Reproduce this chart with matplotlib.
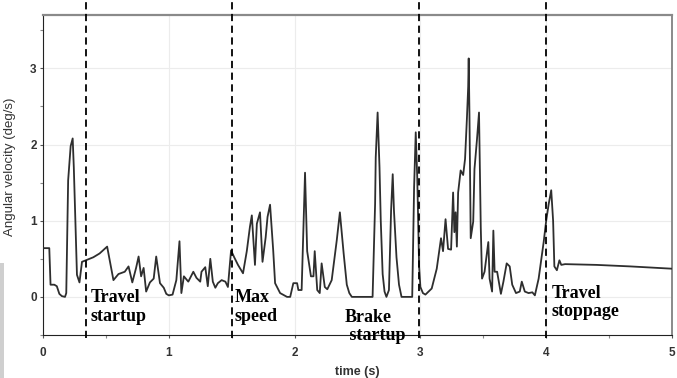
import matplotlib
matplotlib.use("Agg")
import matplotlib.pyplot as plt
from matplotlib.patches import Rectangle

# -------------------- DATA --------------------
t = [0.00, 0.05, 0.06, 0.09, 0.11, 0.13, 0.15, 0.175, 0.185, 0.20, 0.22, 0.236, 0.245,
     0.27, 0.29, 0.31, 0.34, 0.40, 0.45, 0.51, 0.56, 0.60, 0.65, 0.68, 0.71, 0.74, 0.76,
     0.78, 0.80, 0.82, 0.85, 0.88, 0.90, 0.93, 0.96, 0.98, 1.00, 1.03, 1.06, 1.085, 1.10,
     1.12, 1.155, 1.195, 1.22, 1.25, 1.26, 1.29, 1.31, 1.33, 1.35, 1.37, 1.39, 1.42, 1.45,
     1.47, 1.495, 1.52, 1.55, 1.59, 1.62, 1.645, 1.66, 1.685, 1.70, 1.725, 1.745, 1.77,
     1.785, 1.805, 1.83, 1.845, 1.885, 1.94, 1.965, 1.99, 2.02, 2.03, 2.056, 2.083, 2.10,
     2.13, 2.15, 2.16, 2.18, 2.20, 2.215, 2.24, 2.26, 2.295, 2.335, 2.36, 2.39, 2.415,
     2.435, 2.455, 2.62, 2.64, 2.645, 2.66, 2.675, 2.685, 2.70, 2.715, 2.73, 2.75, 2.767,
     2.78, 2.79, 2.81, 2.83, 2.85, 2.935, 2.95, 2.963, 2.975, 2.99, 3.00, 3.02, 3.04,
     3.09, 3.13, 3.164, 3.18, 3.20, 3.22, 3.244, 3.26, 3.27, 3.28, 3.29, 3.30, 3.32, 3.34,
     3.355, 3.37, 3.38, 3.384, 3.39, 3.40, 3.42, 3.43, 3.45, 3.466, 3.48, 3.49, 3.51,
     3.53, 3.54, 3.55, 3.57, 3.58, 3.59, 3.61, 3.63, 3.64, 3.66, 3.686, 3.71, 3.73, 3.76,
     3.79, 3.806, 3.83, 3.86, 3.89, 3.91, 3.94, 3.98, 4.00, 4.02, 4.04, 4.055, 4.065,
     4.085, 4.105, 4.12, 4.15, 4.40, 4.67, 5.00]
vel = [0.64, 0.64, 0.16, 0.16, 0.14, 0.04, 0.01, 0.00, 0.05, 1.53, 1.98, 2.08, 1.70,
       0.29, 0.19, 0.46, 0.48, 0.52, 0.57, 0.66, 0.22, 0.30, 0.33, 0.40, 0.19, 0.38, 0.53,
       0.27, 0.38, 0.07, 0.19, 0.24, 0.53, 0.18, 0.12, 0.04, 0.02, 0.03, 0.22, 0.73, 0.05,
       0.27, 0.20, 0.33, 0.25, 0.20, 0.33, 0.39, 0.14, 0.50, 0.20, 0.12, 0.18, 0.22, 0.20,
       0.13, 0.61, 0.52, 0.42, 0.31, 0.60, 0.92, 1.07, 0.42, 0.96, 1.11, 0.46, 0.78,
       1.05, 1.21, 0.61, 0.18, 0.05, 0.00, 0.00, 0.18, 0.18, 0.09, 0.09, 1.63, 0.60,
       0.27, 0.27, 0.60, 0.09, 0.05, 0.44, 0.13, 0.10, 0.22, 0.74, 1.11, 0.57, 0.16,
       0.05, 0.00, 0.00, 1.22, 1.83, 2.42, 1.70, 1.00, 0.30, 0.07, 0.00, 0.09, 1.13,
       1.61, 1.13, 0.52, 0.16, 0.00, 0.00, 1.44, 2.16, 1.57, 0.39, 0.13, 0.05, 0.03,
       0.11, 0.37, 0.77, 0.60, 1.02, 0.63, 0.62, 1.37, 0.85, 1.11, 0.66, 1.37, 1.66, 1.60,
       1.81, 2.35, 2.76, 3.13, 2.40, 0.77, 0.99, 1.68, 2.07, 2.42, 0.91, 0.24, 0.33,
       0.59, 0.72, 0.24, 0.07, 0.87, 0.33, 0.33, 0.14, 0.04, 0.20, 0.44, 0.40, 0.16, 0.05,
       0.07, 0.20, 0.07, 0.05, 0.06, 0.02, 0.24, 0.72, 1.00, 1.22, 1.40, 1.00, 0.40,
       0.35, 0.48, 0.42, 0.43, 0.42, 0.40, 0.37]

# phase boundaries (s) and their labels
fases_t = [0.34, 1.5, 2.99, 4.0]
etiquetas = ["Travel\nstartup", "Max\nspeed", "Brake\n startup", "Travel\nstoppage"]
etiq_x = [0.38, 1.525, 2.40, 4.045]
etiq_y = [0.10, 0.10, -0.16, 0.16]

# -------------------- FIGURA --------------------
fig = plt.figure(figsize=(6.77, 3.78), dpi=100)
ax = fig.add_axes([0.0635, 0.1138, 0.9291, 0.8465])

ax.plot(t, vel, color="#2e2e2e", lw=1.3, zorder=3)

ax.set_xlim(0, 5)
ax.set_ylim(-0.5, 3.7)
ax.set_xticks([0, 1, 2, 3, 4, 5])
ax.set_xticks([0.5, 1.5, 2.5, 3.5, 4.5], minor=True)
ax.set_yticks([0, 1, 2, 3])
ax.set_yticks([-0.5, 0.5, 1.5, 2.5, 3.5], minor=True)
ax.grid(True, which="major", color="#ececec", lw=0.8, zorder=0)
ax.tick_params(which="major", length=2.5, width=0.8, color="#555555")
ax.tick_params(which="minor", length=2, width=0.8, color="#888888")
ax.tick_params(axis="x", which="major", pad=6)
ax.tick_params(axis="y", which="major", pad=2)

for lab in ax.get_xticklabels() + ax.get_yticklabels():
    lab.set_family(["Liberation Sans", "DejaVu Sans"])
    lab.set_fontweight("bold")
    lab.set_fontsize(8.5)
    lab.set_color("#333333")

ax.spines["left"].set_color("#222222")
ax.spines["bottom"].set_color("#222222")
ax.spines["top"].set_color("#8a8a8a")
ax.spines["right"].set_color("#8a8a8a")
ax.spines["top"].set_linewidth(1.6)
ax.spines["right"].set_linewidth(1.4)

ax.set_xlabel("time (s)", family=["Liberation Sans", "DejaVu Sans"], fontsize=9,
              fontweight="bold", color="#333333", labelpad=5)
ax.set_ylabel("Angular velocity (deg/s)", family=["Liberation Sans", "DejaVu Sans"],
              fontsize=9.5, color="#333333")
ax.yaxis.set_label_coords(-0.043, 0.525)

# lineas de fase (sobresalen del marco)
for xf in fases_t:
    ax.axvline(xf, ymin=-0.01, ymax=1.05, color="black", lw=1.3,
               ls=(0, (4, 2.5)), clip_on=False, zorder=4)

for txt, xe, ye in zip(etiquetas, etiq_x, etiq_y):
    ax.text(xe, ye, txt, family=["Liberation Serif", "DejaVu Serif"], fontweight="bold",
            fontsize=13, va="top", ha="left", linespacing=1.1, zorder=5)

# franja gris del borde izquierdo
fig.patches.append(Rectangle((0, 0), 3.5 / 677, 115 / 378, transform=fig.transFigure,
                             facecolor="#cfcfcf", edgecolor="none"))

fig.savefig("out.png", dpi=100)
